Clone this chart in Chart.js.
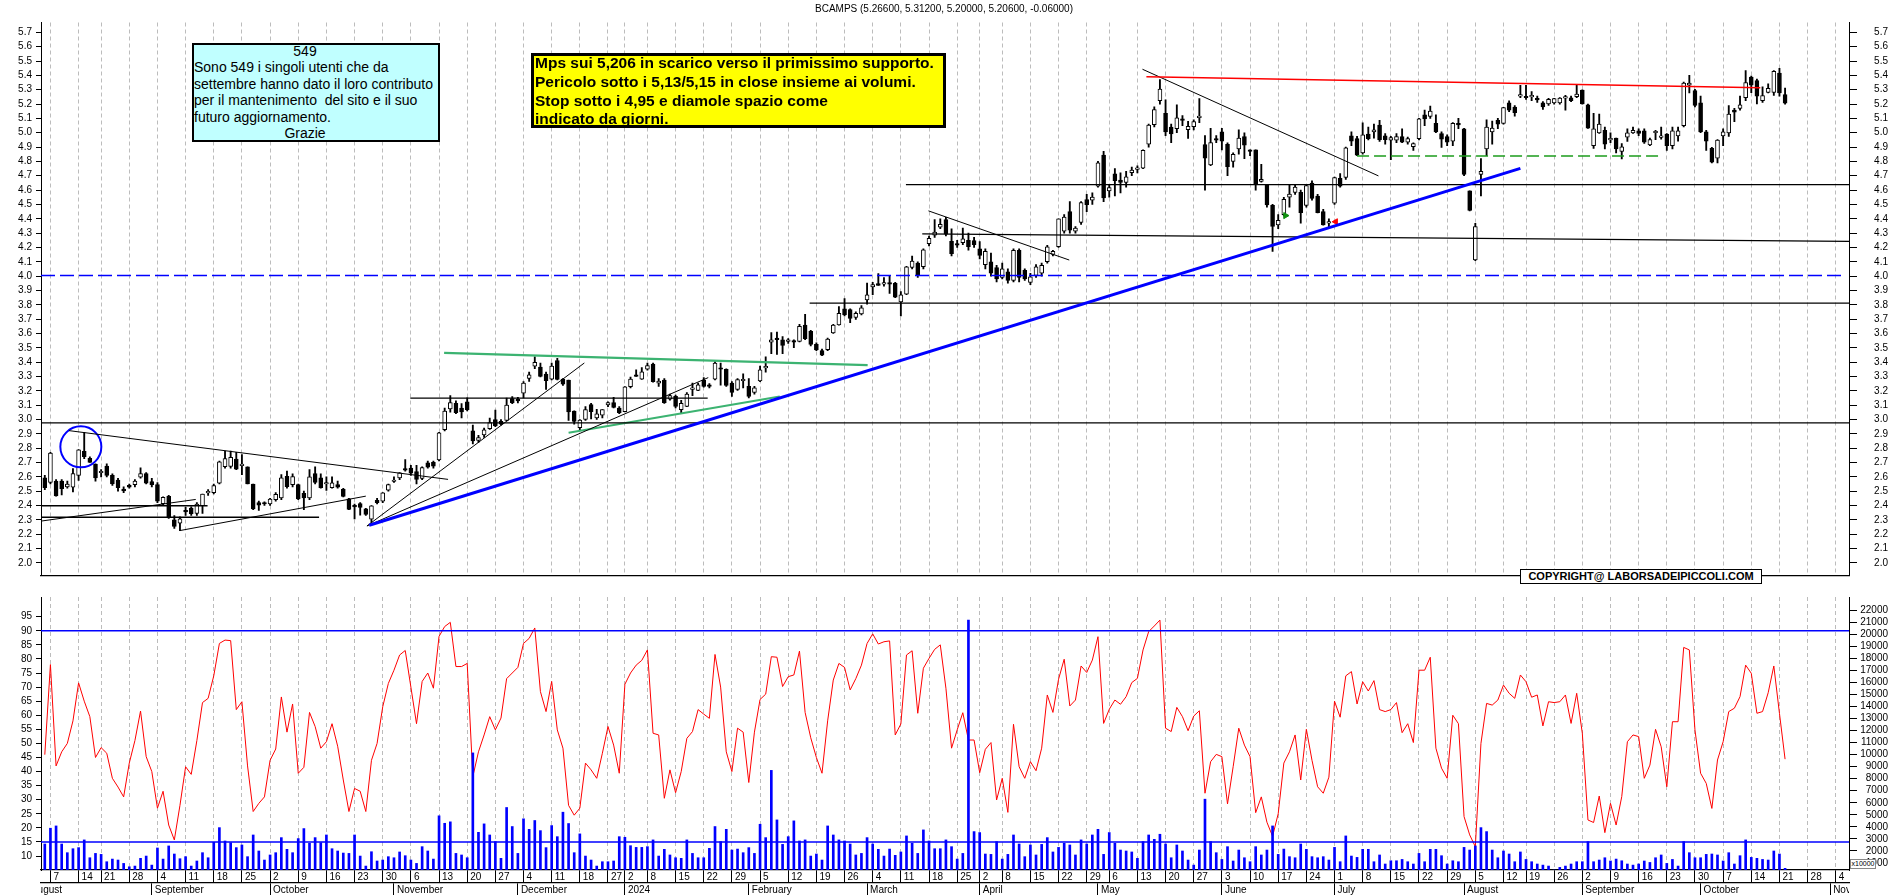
<!DOCTYPE html>
<html>
<head>
<meta charset="utf-8">
<title>BCAMPS</title>
<script src="https://cdn.jsdelivr.net/npm/chart.js@4.4.1/dist/chart.umd.min.js"></script>
<style>
  html, body { margin: 0; padding: 0; background: #fff; }
  #wrap { position: relative; width: 1890px; height: 895px; overflow: hidden; background: #fff;
          font-family: "Liberation Sans", Arial, sans-serif; color: #000; }
  #priceCanvas { position: absolute; left: 0; top: 0; }
  #oscCanvas { position: absolute; left: 0; top: 597px; }
  .box { position: absolute; box-sizing: border-box; }
  #title { position: absolute; left: 644px; width: 600px; top: 3px; text-align: center;
           font-size: 10px; line-height: 12px; }
  #thanks { left: 192px; top: 43px; width: 248px; height: 99px; border: 2px solid #000;
            background: #c0ffff; font-size: 14px; line-height: 16.4px; }
  #thanks .txt { position: relative; top: -2px; left: 0; white-space: pre; }
  #thanks .c { text-align: center; padding-right: 22px; }
  #note { left: 531px; top: 53px; width: 415px; height: 75px; border: 3px solid #000;
          background: #ffff00; font-size: 15.5px; font-weight: bold; line-height: 18.8px; }
  #note .txt { position: relative; top: -2px; left: 1px; white-space: pre; }
  #copy { left: 1520px; top: 569px; width: 242px; height: 15px; border: 1.5px solid #000;
          background: #fff; font-size: 11px; font-weight: bold; line-height: 12px; text-align: center; }
  #mult { left: 1850px; top: 859px; width: 26px; height: 10px; border: 1px solid #888;
          background: #fff; font-size: 7px; line-height: 8px; text-align: center; }
</style>
</head>
<body>
<div id="wrap">
  <canvas id="priceCanvas" width="1890" height="598" style="width:1890px;height:598px"></canvas>
  <canvas id="oscCanvas" width="1890" height="298" style="width:1890px;height:298px"></canvas>

  <div id="title">BCAMPS (5.26600, 5.31200, 5.20000, 5.20600, -0.06000)</div>

  <div class="box" id="thanks"><div class="txt"><div class="c">549</div><div>Sono 549 i singoli utenti che da</div><div>settembre hanno dato il loro contributo</div><div>per il mantenimento  del sito e il suo</div><div>futuro aggiornamento.</div><div class="c">Grazie</div></div></div>

  <div class="box" id="note"><div class="txt"><div>Mps sui 5,206 in scarico verso il primissimo supporto.</div><div>Pericolo sotto i 5,13/5,15 in close insieme ai volumi.</div><div>Stop sotto i 4,95 e diamole spazio come</div><div>indicato da giorni.</div></div></div>

  <div class="box" id="copy">COPYRIGHT@ LABORSADEIPICCOLI.COM</div>
  <div class="box" id="mult">x10000</div>
</div>

<script>
// ========================================
// DATA
// ========================================

const FONT = '"Liberation Sans", Arial, sans-serif';

// trading calendar (Borsa Italiana closing days)
const CAL_FROM = '2023-08-01';
const CAL_TO = '2024-11-08';
const FIRST_BAR = '2023-08-04';
const HOLIDAYS = ['2023-08-15', '2023-12-25', '2023-12-26', '2024-01-01',
  '2024-03-29', '2024-04-01', '2024-05-01', '2024-08-15'];
const MONTH_NAMES = ['January', 'February', 'March', 'April', 'May', 'June', 'July',
  'August', 'September', 'October', 'November', 'December'];

// visible range, in trading-day index (0 = first candle)
const X_MIN = -0.675;
const X_MAX = 320.35;

// price panel
const PRICE_MIN = 1.9115;
const PRICE_MAX = 5.769;
const PRICE_TICKS = [2.0, 2.1, 2.2, 2.3, 2.4, 2.5, 2.6, 2.7, 2.8, 2.9, 3.0, 3.1, 3.2, 3.3, 3.4,
  3.5, 3.6, 3.7, 3.8, 3.9, 4.0, 4.1, 4.2, 4.3, 4.4, 4.5, 4.6, 4.7, 4.8, 4.9, 5.0, 5.1, 5.2,
  5.3, 5.4, 5.5, 5.6, 5.7];

const OPEN = [
  2.593, 2.56, 2.571, 2.571, 2.53, 2.528, 2.61, 2.777, 2.729, 2.688,
  2.628, 2.675, 2.61, 2.577, 2.515, 2.541, 2.545, 2.597, 2.623, 2.567,
  2.545, 2.413, 2.463, 2.30, 2.277, 2.362, 2.381, 2.344, 2.398, 2.488,
  2.49, 2.556, 2.67, 2.673, 2.723, 2.678, 2.669, 2.55, 2.42, 2.418,
  2.41, 2.44, 2.452, 2.604, 2.545, 2.545, 2.485, 2.452, 2.623, 2.593,
  2.55, 2.524, 2.545, 2.513, 2.446, 2.40, 2.413, 2.377, 2.305, 2.435,
  2.43, 2.506, 2.567, 2.593, 2.654, 2.66, 2.636, 2.589, 2.697, 2.701,
  2.718, 2.928, 3.073, 3.112, 3.08, 3.123, 2.92, 2.853, 2.892, 2.935,
  3.0, 2.987, 2.993, 3.145, 3.138, 3.184, 3.286, 3.372, 3.366, 3.316,
  3.281, 3.411, 3.281, 3.275, 3.058, 2.943, 3.0, 3.104, 3.01, 3.03,
  3.102, 3.117, 3.08, 3.054, 3.229, 3.312, 3.281, 3.35, 3.387, 3.253,
  3.275, 3.142, 3.162, 3.069, 3.091, 3.21, 3.203, 3.275, 3.242, 3.281,
  3.357, 3.35, 3.253, 3.21, 3.27, 3.231, 3.188, 3.268, 3.36, 3.539,
  3.567, 3.556, 3.545, 3.55, 3.545, 3.658, 3.615, 3.524, 3.48, 3.487,
  3.604, 3.66, 3.772, 3.766, 3.712, 3.736, 3.833, 3.924, 3.948, 3.944,
  3.948, 3.95, 3.82, 3.874, 4.06, 4.09, 4.065, 4.227, 4.285, 4.342,
  4.394, 4.242, 4.227, 4.233, 4.249, 4.248, 4.19, 4.08, 4.10, 4.06,
  3.99, 4.03, 3.97, 4.18, 4.04, 3.956, 4.004, 4.02, 4.10, 4.151,
  4.205, 4.314, 4.45, 4.314, 4.374, 4.534, 4.53, 4.628, 4.844, 4.595,
  4.714, 4.67, 4.653, 4.721, 4.745, 4.753, 4.92, 5.056, 5.223, 5.136,
  5.039, 5.028, 5.09, 5.021, 5.043, 5.105, 4.918, 4.775, 4.95, 5.006,
  4.92, 4.80, 4.887, 4.974, 4.876, 4.88, 4.66, 4.634, 4.493, 4.357,
  4.428, 4.55, 4.584, 4.584, 4.493, 4.649, 4.558, 4.45, 4.37, 4.508,
  4.682, 4.688, 4.978, 4.96, 4.859, 4.991, 5.006, 5.054, 4.978, 4.948,
  4.948, 4.974, 4.935, 4.902, 4.958, 5.125, 5.114, 5.065, 4.995, 4.974,
  4.941, 5.065, 5.028, 4.595, 4.112, 4.71, 4.887, 5.006, 5.086, 5.065,
  5.208, 5.179, 5.255, 5.254, 5.25, 5.232, 5.208, 5.201, 5.208, 5.208,
  5.242, 5.244, 5.251, 5.298, 5.195, 4.909, 4.999, 5.017, 4.95, 4.963,
  4.87, 4.969, 4.999, 5.013, 5.013, 4.915, 5.0, 4.967, 4.991, 4.909,
  4.978, 5.05, 5.331, 5.294, 5.208, 5.006, 4.891, 4.822, 4.978, 4.999,
  5.158, 5.169, 5.244, 5.389, 5.363, 5.223, 5.281, 5.281, 5.417, 5.266
];

const HIGH = [
  2.61, 2.77, 2.58, 2.58, 2.57, 2.657, 2.79, 2.911, 2.74, 2.69,
  2.65, 2.69, 2.62, 2.59, 2.53, 2.55, 2.58, 2.662, 2.63, 2.59,
  2.56, 2.46, 2.47, 2.33, 2.32, 2.387, 2.39, 2.42, 2.48, 2.51,
  2.55, 2.71, 2.78, 2.78, 2.77, 2.755, 2.67, 2.55, 2.43, 2.425,
  2.45, 2.49, 2.615, 2.64, 2.62, 2.55, 2.50, 2.65, 2.67, 2.62,
  2.60, 2.60, 2.57, 2.52, 2.45, 2.41, 2.42, 2.38, 2.40, 2.45,
  2.49, 2.55, 2.60, 2.63, 2.72, 2.68, 2.68, 2.67, 2.71, 2.71,
  2.91, 3.08, 3.166, 3.13, 3.11, 3.15, 2.96, 2.89, 2.94, 3.01,
  3.065, 3.0, 3.149, 3.16, 3.155, 3.264, 3.33, 3.437, 3.394, 3.33,
  3.394, 3.426, 3.285, 3.275, 3.06, 3.0, 3.09, 3.112, 3.07, 3.069,
  3.123, 3.155, 3.09, 3.23, 3.296, 3.346, 3.361, 3.394, 3.394, 3.286,
  3.286, 3.177, 3.17, 3.134, 3.188, 3.253, 3.253, 3.292, 3.25, 3.404,
  3.394, 3.354, 3.264, 3.286, 3.318, 3.285, 3.231, 3.372, 3.437, 3.606,
  3.61, 3.578, 3.565, 3.556, 3.664, 3.733, 3.621, 3.535, 3.491, 3.567,
  3.664, 3.787, 3.844, 3.772, 3.751, 3.794, 3.952, 3.956, 4.017, 3.989,
  4.0, 3.956, 3.892, 4.069, 4.14, 4.10, 4.19, 4.28, 4.394, 4.40,
  4.41, 4.33, 4.25, 4.335, 4.30, 4.27, 4.24, 4.19, 4.16, 4.075,
  4.09, 4.05, 4.19, 4.19, 4.05, 4.02, 4.08, 4.09, 4.215, 4.18,
  4.40, 4.43, 4.52, 4.345, 4.52, 4.57, 4.58, 4.80, 4.87, 4.64,
  4.75, 4.72, 4.73, 4.76, 4.77, 4.88, 5.06, 5.18, 5.37, 5.23,
  5.06, 5.195, 5.12, 5.08, 5.09, 5.238, 4.98, 5.03, 4.98, 5.03,
  4.93, 4.86, 5.02, 5.0, 4.88, 4.88, 4.78, 4.64, 4.50, 4.43,
  4.55, 4.64, 4.64, 4.60, 4.64, 4.665, 4.57, 4.465, 4.40, 4.69,
  4.715, 4.90, 5.006, 4.975, 5.07, 5.04, 5.06, 5.087, 4.995, 4.975,
  4.995, 5.028, 4.97, 4.93, 5.10, 5.158, 5.186, 5.125, 5.006, 4.985,
  5.071, 5.10, 5.03, 4.595, 4.368, 4.82, 5.09, 5.082, 5.10, 5.178,
  5.223, 5.19, 5.33, 5.33, 5.287, 5.255, 5.217, 5.24, 5.24, 5.245,
  5.261, 5.255, 5.33, 5.30, 5.20, 5.136, 5.13, 5.04, 4.999, 4.963,
  4.924, 5.028, 5.04, 5.028, 5.028, 4.963, 5.017, 5.039, 4.995, 5.039,
  5.039, 5.353, 5.40, 5.303, 5.255, 5.017, 4.898, 4.952, 5.028, 5.19,
  5.17, 5.255, 5.433, 5.396, 5.374, 5.32, 5.342, 5.433, 5.449, 5.312
];

const LOW = [
  2.51, 2.55, 2.465, 2.474, 2.52, 2.495, 2.575, 2.727, 2.70, 2.57,
  2.60, 2.60, 2.54, 2.50, 2.49, 2.52, 2.53, 2.59, 2.55, 2.53,
  2.42, 2.40, 2.31, 2.24, 2.225, 2.33, 2.33, 2.33, 2.345, 2.47,
  2.48, 2.55, 2.66, 2.66, 2.65, 2.614, 2.55, 2.37, 2.366, 2.40,
  2.40, 2.43, 2.44, 2.52, 2.53, 2.44, 2.37, 2.44, 2.55, 2.52,
  2.505, 2.52, 2.52, 2.46, 2.37, 2.307, 2.333, 2.33, 2.27, 2.41,
  2.42, 2.50, 2.56, 2.58, 2.64, 2.61, 2.55, 2.58, 2.66, 2.66,
  2.71, 2.92, 3.05, 3.04, 3.01, 3.06, 2.83, 2.84, 2.875, 2.93,
  2.95, 2.96, 2.99, 3.11, 3.115, 3.15, 3.265, 3.355, 3.296, 3.21,
  3.275, 3.275, 3.238, 2.993, 2.967, 2.924, 2.993, 3.004, 3.0, 3.01,
  3.09, 3.08, 3.04, 3.052, 3.22, 3.30, 3.28, 3.344, 3.26, 3.23,
  3.112, 3.134, 3.08, 3.043, 3.09, 3.166, 3.2, 3.225, 3.22, 3.275,
  3.24, 3.231, 3.16, 3.203, 3.22, 3.151, 3.177, 3.264, 3.33, 3.459,
  3.454, 3.459, 3.53, 3.50, 3.54, 3.556, 3.513, 3.48, 3.445, 3.48,
  3.60, 3.658, 3.723, 3.675, 3.697, 3.73, 3.805, 3.87, 3.935, 3.93,
  3.88, 3.85, 3.723, 3.87, 4.05, 3.99, 4.05, 4.21, 4.27, 4.33,
  4.28, 4.14, 4.20, 4.22, 4.18, 4.20, 4.12, 4.05, 4.0, 3.96,
  3.98, 3.95, 3.96, 3.96, 3.97, 3.94, 3.99, 4.0, 4.09, 4.14,
  4.20, 4.30, 4.30, 4.30, 4.36, 4.45, 4.50, 4.62, 4.52, 4.55,
  4.56, 4.58, 4.62, 4.70, 4.72, 4.75, 4.90, 5.04, 5.20, 4.98,
  4.93, 5.0, 5.05, 4.96, 5.02, 5.07, 4.60, 4.77, 4.93, 4.88,
  4.70, 4.76, 4.85, 4.82, 4.84, 4.60, 4.655, 4.48, 4.173, 4.33,
  4.42, 4.48, 4.57, 4.37, 4.48, 4.53, 4.44, 4.355, 4.345, 4.50,
  4.62, 4.675, 4.909, 4.84, 4.85, 4.95, 4.963, 4.94, 4.92, 4.812,
  4.93, 4.93, 4.92, 4.876, 4.95, 5.05, 5.10, 5.0, 4.898, 4.909,
  4.909, 5.028, 4.70, 4.455, 4.108, 4.56, 4.84, 4.92, 5.028, 5.06,
  5.147, 5.115, 5.245, 5.233, 5.223, 5.212, 5.162, 5.19, 5.20, 5.20,
  5.158, 5.216, 5.245, 5.20, 5.03, 4.891, 4.995, 4.887, 4.93, 4.86,
  4.818, 4.94, 4.995, 4.98, 4.926, 4.909, 4.952, 4.956, 4.876, 4.887,
  4.941, 5.04, 5.277, 5.18, 5.0, 4.876, 4.79, 4.79, 4.909, 4.974,
  5.078, 5.158, 5.223, 5.28, 5.201, 5.212, 5.277, 5.26, 5.255, 5.20
];

const CLOSE = [
  2.524, 2.766, 2.467, 2.517, 2.55, 2.623, 2.788, 2.74, 2.701, 2.593,
  2.63, 2.61, 2.55, 2.524, 2.502, 2.528, 2.571, 2.623, 2.556, 2.545,
  2.43, 2.456, 2.322, 2.253, 2.307, 2.355, 2.342, 2.409, 2.48, 2.492,
  2.539, 2.705, 2.727, 2.736, 2.653, 2.682, 2.55, 2.376, 2.402, 2.41,
  2.445, 2.478, 2.593, 2.532, 2.602, 2.446, 2.452, 2.60, 2.56, 2.524,
  2.56, 2.558, 2.528, 2.463, 2.372, 2.39, 2.387, 2.337, 2.398, 2.42,
  2.489, 2.545, 2.577, 2.628, 2.647, 2.625, 2.582, 2.664, 2.668, 2.675,
  2.907, 3.058, 3.117, 3.047, 3.052, 3.069, 2.85, 2.874, 2.928, 2.978,
  2.955, 2.967, 3.10, 3.117, 3.13, 3.253, 3.311, 3.398, 3.30, 3.27,
  3.372, 3.279, 3.246, 3.052, 2.987, 2.996, 3.069, 3.054, 3.039, 3.069,
  3.117, 3.084, 3.047, 3.227, 3.281, 3.30, 3.333, 3.376, 3.264, 3.268,
  3.117, 3.166, 3.091, 3.112, 3.177, 3.216, 3.242, 3.231, 3.23, 3.394,
  3.35, 3.238, 3.188, 3.279, 3.275, 3.16, 3.22, 3.346, 3.368, 3.556,
  3.556, 3.517, 3.556, 3.539, 3.649, 3.563, 3.524, 3.485, 3.448, 3.56,
  3.658, 3.74, 3.729, 3.705, 3.74, 3.779, 3.87, 3.941, 3.935, 3.948,
  3.944, 3.853, 3.87, 4.065, 4.104, 4.01, 4.184, 4.264, 4.307, 4.361,
  4.292, 4.156, 4.216, 4.26, 4.205, 4.22, 4.145, 4.173, 4.02, 3.98,
  4.05, 3.97, 4.18, 3.99, 3.98, 3.995, 4.065, 4.075, 4.205, 4.173,
  4.40, 4.411, 4.32, 4.335, 4.513, 4.498, 4.552, 4.79, 4.545, 4.617,
  4.666, 4.653, 4.693, 4.74, 4.753, 4.877, 5.054, 5.162, 5.305, 5.006,
  4.991, 5.104, 5.086, 5.045, 5.078, 5.108, 4.822, 4.931, 4.948, 4.941,
  4.764, 4.85, 4.963, 4.913, 4.87, 4.638, 4.675, 4.497, 4.346, 4.389,
  4.536, 4.572, 4.621, 4.443, 4.632, 4.541, 4.443, 4.357, 4.378, 4.688,
  4.628, 4.894, 4.941, 4.844, 4.985, 4.958, 5.021, 4.952, 4.952, 4.967,
  4.974, 4.935, 4.96, 4.924, 5.097, 5.097, 5.151, 5.006, 4.956, 4.935,
  5.065, 5.054, 4.71, 4.458, 4.346, 4.73, 5.039, 5.032, 5.06, 5.175,
  5.158, 5.14, 5.261, 5.244, 5.255, 5.229, 5.18, 5.233, 5.238, 5.242,
  5.244, 5.223, 5.27, 5.201, 5.032, 5.028, 5.06, 4.92, 4.956, 4.887,
  4.902, 4.999, 5.017, 4.995, 4.935, 4.952, 5.006, 4.978, 4.909, 5.013,
  5.013, 5.346, 5.346, 5.19, 5.006, 4.941, 4.794, 4.948, 5.006, 5.13,
  5.143, 5.195, 5.35, 5.331, 5.255, 5.259, 5.309, 5.428, 5.277, 5.206
];

// oscillator panel (left axis) and volume (right axis)
const RSI_MIN = 5.03;
const RSI_MAX = 102.0;
const RSI_TICKS = [10, 15, 20, 25, 30, 35, 40, 45, 50, 55, 60, 65, 70, 75, 80, 85, 90, 95];
const RSI_LEVELS = [90, 15];

const VOL_MIN = 423;
const VOL_MAX = 23079;
const VOL_TICKS = [1000, 2000, 3000, 4000, 5000, 6000, 7000, 8000, 9000, 10000, 11000,
  12000, 13000, 14000, 15000, 16000, 17000, 18000, 19000, 20000, 21000, 22000];

const RSI = [
  46, 78, 42, 47, 50, 58, 71.5, 65, 59.5, 45,
  48.5, 46.5, 37.6, 34.5, 31, 43, 51, 61.5, 45.3, 40,
  27, 33, 21, 15.7, 28, 41.7, 39, 51, 64.5, 66,
  74, 85.5, 86.7, 86.5, 62, 64.8, 42, 25.8, 28.7, 31,
  44, 48, 66.5, 54, 64, 39.4, 41.5, 61, 56, 48.3,
  50.6, 57, 49, 37, 25.8, 34, 33, 25.8, 44, 50,
  63, 71.3, 76, 81.4, 83, 70, 57, 72, 75, 69.6,
  88, 91.5, 93, 77.3, 77.3, 78.4, 38.2, 47, 53, 59.5,
  54.8, 59, 73, 75, 77, 85.5, 87.3, 91, 68.4, 61.3,
  72, 54.8, 48.3, 28, 24.5, 27, 43, 40.6, 37.6, 46.5,
  56, 49.4, 39.4, 71, 75, 77.8, 79.5, 83.2, 53.6, 53,
  30.5, 40.6, 32.5, 40, 51.8, 54.2, 62, 60.4, 58.9, 81.6,
  70, 47, 40, 55.4, 54, 36.1, 54, 65.6, 67.5, 80.8,
  80.6, 70.2, 73.7, 74.3, 82.8, 61, 52, 45, 39.4, 58,
  72.5, 78.4, 77, 69, 73, 77.8, 85.5, 88.9, 85.3, 86.1,
  86.4, 53, 56.9, 81.4, 82.9, 60.7, 76.7, 80.2, 83.4, 85,
  69.6, 48.3, 54.8, 60.9, 51.2, 51.2, 39.6, 47.9, 50.3, 29.9,
  37.6, 25.5, 56.8, 41.7, 37.6, 43.5, 40.3, 48.3, 67.2, 61,
  72.8, 79.9, 63.3, 65.4, 77.5, 75.2, 79.6, 87.9, 57.1, 62.1,
  65.4, 63.9, 66.6, 71.6, 73.1, 83.2, 89.7, 91.7, 93.8, 55.4,
  54.2, 62.8, 59.5, 54.5, 59.7, 61.6, 32.3, 43.5, 46.1, 45.3,
  28.5, 41.7, 55.4, 49.4, 45.3, 25.4, 31, 22, 17, 25,
  43, 47, 53, 37, 55, 44, 34.6, 32.3, 38, 65,
  59.3, 74, 75.5, 64, 71.9, 68.6, 72.3, 62, 61.3, 62,
  64.5, 53.8, 57, 50.3, 76, 76, 80.6, 48.3, 41.2, 37.6,
  60, 57, 24, 17.5, 13.3, 50, 64.2, 63.6, 65.4, 70.7,
  67.8, 66, 74.3, 71.9, 66.4, 67.2, 56.2, 64.8, 64.5, 64.8,
  67.2, 57.1, 67.8, 53.6, 22.8, 21.9, 31.3, 18.3, 28.7, 21,
  31.1, 50.6, 53, 52.4, 37.6, 42.3, 55, 48.8, 34.6, 57.7,
  57.7, 84.1, 83.2, 54.8, 39.4, 35.8, 26.9, 44.1, 50.6, 61.3,
  62.5, 66.6, 77.8, 74.9, 60.7, 61.3, 68, 77.5, 60.7, 44.4
];

const VOLUME = [
  2580, 3890, 4080, 2580, 1860, 2190, 2280, 2920, 1440, 1800,
  1720, 1110, 1330, 1250, 970, 690, 750, 1390, 1580, 830,
  2250, 1330, 2420, 1750, 1360, 1530, 750, 1170, 1860, 1440,
  2720, 3940, 2830, 2690, 2280, 2500, 1530, 3330, 2000, 1250,
  1670, 1860, 3110, 2140, 1860, 3030, 3860, 2640, 3110, 2690,
  3330, 2190, 2000, 1830, 1800, 3330, 1580, 750, 1940, 1170,
  1250, 1530, 1440, 1920, 1610, 1250, 970, 2360, 2000, 1330,
  4920, 4300, 4420, 1800, 1670, 1440, 10140, 3550, 4250, 3330,
  2780, 1390, 5610, 4030, 1800, 4670, 3800, 4530, 3690, 2280,
  4110, 3190, 5220, 4280, 1860, 3420, 1580, 1250, 750, 1110,
  1110, 1170, 3190, 3140, 2440, 2300, 2300, 2360, 2920, 1580,
  2140, 1670, 1440, 1390, 2920, 1800, 1440, 1440, 2220, 4030,
  2780, 3800, 2080, 2160, 1860, 2280, 1800, 4220, 3110, 8690,
  4580, 2550, 3190, 4500, 2830, 2920, 1580, 1750, 1250, 4080,
  3330, 2920, 2830, 2580, 1670, 1800, 3110, 2580, 2140, 1580,
  2160, 1640, 1920, 3250, 2640, 1800, 3750, 2830, 2190, 2190,
  2920, 2360, 1330, 1800, 21170, 3610, 3530, 1750, 1720, 2780,
  1330, 1720, 3330, 2580, 1530, 2500, 1670, 2550, 3110, 1920,
  2300, 2640, 2500, 1670, 2920, 2580, 3330, 3800, 1720, 3530,
  2640, 2080, 2000, 1920, 1390, 2780, 3330, 2970, 3390, 2580,
  1440, 2500, 2000, 1250, 830, 2080, 6300, 2780, 1860, 1300,
  2360, 1170, 2080, 1440, 1110, 2360, 1670, 2080, 4080, 1720,
  2160, 1530, 1440, 2580, 2140, 1530, 1440, 1530, 1250, 2300,
  1110, 3250, 1580, 1470, 2140, 2140, 1110, 1670, 920, 1190,
  1190, 1300, 1110, 920, 1800, 1110, 2140, 2140, 1610, 920,
  1190, 1110, 2300, 2080, 2420, 3940, 3610, 2080, 1440, 2000,
  1750, 1110, 1920, 1300, 1110, 920, 830, 750, 420, 640,
  750, 920, 1110, 1110, 2780, 1110, 1250, 1440, 1170, 1330,
  1190, 920, 830, 920, 1170, 1050, 1440, 1670, 970, 1300,
  750, 2780, 1860, 1440, 1440, 1720, 1750, 1670, 1170, 1860,
  920, 1610, 2920, 1470, 1390, 1300, 1250, 2000, 1750, 560
];

// hand-drawn studies on the price panel: [trading-day index, price]
const BLUE_TREND = [[57.6, 2.262], [262.0, 4.751]];
const BLUE_LEVEL = [[X_MIN, 4.005], [319.5, 4.005]];
const LEVEL_298 = [[X_MIN, 2.976], [X_MAX, 2.976]];
const LEVEL_381 = [[135.8, 3.812], [X_MAX, 3.812]];
const LEVEL_464 = [[152.9, 4.638], [X_MAX, 4.638]];
const LEVEL_429 = [[155.8, 4.294], [X_MAX, 4.242]];
const LEVEL_315 = [[64.9, 3.149], [117.7, 3.149]];
const LEVEL_240 = [[X_MIN, 2.398], [28.9, 2.398]];
const LEVEL_232 = [[X_MIN, 2.318], [48.7, 2.318]];
const RED_TOP = [[195.6, 5.39], [304.6, 5.314]];
const GREEN_DASH = [[233.0, 4.837], [287.2, 4.837]];
const MAY_FALL = [[194.9, 5.443], [236.8, 4.699]];
const APRIL_FALL = [[156.9, 4.455], [181.9, 4.112]];
const AUG_FALL = [[4.3, 2.922], [71.6, 2.582]];
const AUG_RISE = [[X_MIN, 2.291], [26.8, 2.442]];
const SEP_RISE = [[24.0, 2.225], [57.0, 2.465]];
const FAN_STEEP = [[57.2, 2.257], [95.8, 3.394]];
const FAN_FLAT = [[57.2, 2.257], [117.8, 3.292]];
const GREEN_TOP = [[70.9, 3.465], [146.1, 3.379]];
const GREEN_RISE = [[93.0, 2.907], [130.5, 3.16]];
const CIRCLE_AT = [6.4, 2.809];
const GREEN_ARROW_AT = [220.3, 4.422];
const RED_ARROW_AT = [229.2, 4.379];

// ========================================
// CALENDAR / TICKS
// ========================================

function isoDay(d) {
  return d.toISOString().slice(0, 10);
}

function buildCalendar() {
  const days = [];
  const end = Date.parse(CAL_TO + 'T00:00:00Z');
  for (let t = Date.parse(CAL_FROM + 'T00:00:00Z'); t <= end; t += 86400000) {
    const d = new Date(t);
    const wd = d.getUTCDay();
    if (wd === 0 || wd === 6) continue;
    if (HOLIDAYS.includes(isoDay(d))) continue;
    days.push(d);
  }
  return days;
}

const CAL = buildCalendar();
const FIRST = CAL.findIndex(function(d) { return isoDay(d) === FIRST_BAR; });

// first trading day of each week -> day number labels
const WEEK_TICKS = [];
// first trading day of each month -> month labels
const MONTH_TICKS = [];
CAL.forEach(function(d, j) {
  const x = j - FIRST;
  const prev = CAL[j - 1];
  if (prev && d.getUTCDay() < prev.getUTCDay() && x >= X_MIN && x <= X_MAX) {
    WEEK_TICKS.push({ x: x, label: String(d.getUTCDate()) });
  }
  if (!prev || d.getUTCMonth() !== prev.getUTCMonth()) {
    const m = d.getUTCMonth();
    MONTH_TICKS.push({ x: x, label: m === 0 ? String(d.getUTCFullYear()) : MONTH_NAMES[m] });
  }
});
const DAY_LABEL = new Map(WEEK_TICKS.map(function(t) { return [t.x, t.label]; }));

// ========================================
// CHART HELPERS
// ========================================

const GRID_GRAY = '#bcbcbc';
const GRID_DASH = [4, 3];

Chart.defaults.font.family = FONT;
Chart.defaults.font.size = 10;
Chart.defaults.color = '#000';

function pts(pairs) {
  return pairs.map(function(p) { return { x: p[0], y: p[1] }; });
}

function segment(pairs, color, width, dash) {
  return {
    type: 'line',
    data: pts(pairs),
    borderColor: color,
    borderWidth: width,
    borderDash: dash || [],
    pointRadius: 0,
    tension: 0,
    fill: false,
    order: 0,
    xAxisID: 'x',
    yAxisID: 'y'
  };
}

function marker(at, style, rotation, radius, color, fillColor, width) {
  return {
    type: 'line',
    data: pts([at]),
    showLine: false,
    pointStyle: style,
    rotation: rotation,
    pointRadius: radius,
    pointBorderColor: color,
    pointBackgroundColor: fillColor,
    pointBorderWidth: width,
    order: 0,
    xAxisID: 'x',
    yAxisID: 'y'
  };
}

function yAxis(position, min, max, values, width, tickLen, format) {
  return {
    position: position,
    min: min,
    max: max,
    afterBuildTicks: function(s) { s.ticks = values.map(function(v) { return { value: v }; }); },
    ticks: {
      autoSkip: false,
      padding: 4,
      crossAlign: position === 'right' ? 'far' : 'near',
      font: { family: FONT, size: 10 },
      color: '#000',
      callback: format
    },
    grid: { drawOnChartArea: false, drawTicks: true, tickLength: tickLen, tickColor: '#000', tickWidth: 1 },
    border: { display: true, color: '#000', width: 1 },
    afterFit: function(s) { s.width = width; s.paddingTop = 0; s.paddingBottom = 0; }
  };
}

function weekTicks(s) {
  s.ticks = WEEK_TICKS.map(function(t) { return { value: t.x }; });
}

// ========================================
// PRICE PANEL
// ========================================

const bodies = OPEN.map(function(o, i) {
  return { x: i, y: [Math.min(o, CLOSE[i]), Math.max(o, CLOSE[i])] };
});
const wicks = OPEN.map(function(o, i) { return { x: i, y: [LOW[i], HIGH[i]] }; });
const bodyFill = OPEN.map(function(o, i) { return CLOSE[i] >= o ? '#ffffff' : '#000000'; });

new Chart(document.getElementById('priceCanvas'), {
  type: 'line',
  data: {
    datasets: [
      segment(BLUE_TREND, '#0000ff', 3),
      segment(BLUE_LEVEL, '#0000ff', 1.5, [14, 5]),
      segment(LEVEL_298, '#000', 1.3),
      segment(LEVEL_381, '#000', 1.3),
      segment(LEVEL_464, '#000', 1.3),
      segment(LEVEL_429, '#000', 1.3),
      segment(LEVEL_315, '#000', 1.3),
      segment(LEVEL_240, '#000', 1.3),
      segment(LEVEL_232, '#000', 1.3),
      segment(RED_TOP, '#ff0000', 1.5),
      segment(GREEN_DASH, '#1c9c1c', 1.5, [12, 5]),
      segment(MAY_FALL, '#000', 1),
      segment(APRIL_FALL, '#000', 1),
      segment(AUG_FALL, '#000', 1),
      segment(AUG_RISE, '#000', 1),
      segment(SEP_RISE, '#000', 1),
      segment(FAN_STEEP, '#000', 1),
      segment(FAN_FLAT, '#000', 1),
      segment(GREEN_TOP, '#3cb371', 2.2),
      segment(GREEN_RISE, '#3cb371', 2.2),
      marker(CIRCLE_AT, 'circle', 0, 20.5, '#0000ff', 'rgba(0,0,0,0)', 2),
      marker(GREEN_ARROW_AT, 'triangle', 90, 3.5, '#109010', '#109010', 1),
      marker(RED_ARROW_AT, 'triangle', 270, 3.5, '#ff0000', '#ff0000', 1),
      {
        type: 'bar',
        data: bodies,
        backgroundColor: bodyFill,
        borderColor: '#000',
        borderWidth: 1,
        borderSkipped: false,
        barThickness: 4,
        minBarLength: 1.5,
        grouped: false,
        order: 1,
        xAxisID: 'x',
        yAxisID: 'y'
      },
      {
        type: 'bar',
        data: wicks,
        backgroundColor: '#000',
        borderWidth: 0,
        barThickness: 1.2,
        grouped: false,
        order: 2,
        xAxisID: 'x',
        yAxisID: 'y'
      }
    ]
  },
  options: {
    responsive: false,
    animation: false,
    devicePixelRatio: 1,
    layout: { padding: { left: 0, right: 2, top: 0, bottom: 0 } },
    plugins: { legend: { display: false }, tooltip: { enabled: false } },
    scales: {
      x: {
        type: 'linear',
        min: X_MIN,
        max: X_MAX,
        offset: false,
        afterBuildTicks: weekTicks,
        ticks: { display: false },
        grid: { color: GRID_GRAY, lineWidth: 1, drawTicks: false, offset: false },
        border: { display: true, color: '#000', width: 1.3, dash: GRID_DASH },
        afterFit: function(s) { s.height = 1; s.paddingLeft = 0; s.paddingRight = 0; }
      },
      y: yAxis('left', PRICE_MIN, PRICE_MAX, PRICE_TICKS, 41, 5, function(v) { return v.toFixed(1); }),
      y2: yAxis('right', PRICE_MIN, PRICE_MAX, PRICE_TICKS, 39, 8, function(v) { return v.toFixed(1); })
    }
  }
});

// ========================================
// OSCILLATOR / VOLUME PANEL
// ========================================

// month names under the day numbers, clipped to the plot width
const monthLabels = {
  id: 'monthLabels',
  afterDraw: function(chart) {
    const xs = chart.scales.x2;
    const area = chart.chartArea;
    const ctx = chart.ctx;
    ctx.save();
    ctx.beginPath();
    ctx.rect(area.left, xs.top, area.right - area.left, xs.bottom - xs.top);
    ctx.clip();
    ctx.font = '10px ' + FONT;
    ctx.fillStyle = '#000';
    ctx.textBaseline = 'middle';
    ctx.textAlign = 'left';
    MONTH_TICKS.forEach(function(m) {
      ctx.fillText(m.label, xs.getPixelForValue(m.x) + 3, (xs.top + xs.bottom) / 2 + 1);
    });
    ctx.restore();
  }
};

new Chart(document.getElementById('oscCanvas'), {
  type: 'line',
  data: {
    datasets: [
      {
        type: 'bar',
        data: VOLUME.map(function(v, i) { return { x: i, y: v }; }),
        backgroundColor: '#0000ff',
        borderWidth: 0,
        barThickness: 2,
        grouped: false,
        order: 0,
        xAxisID: 'x',
        yAxisID: 'yv'
      }
    ].concat(RSI_LEVELS.map(function(level) {
      return {
        type: 'line',
        data: [{ x: X_MIN, y: level }, { x: X_MAX, y: level }],
        borderColor: '#0000ff',
        borderWidth: 1.5,
        pointRadius: 0,
        order: 0,
        xAxisID: 'x',
        yAxisID: 'yr'
      };
    })).concat([
      {
        type: 'line',
        data: RSI.map(function(v, i) { return { x: i, y: v }; }),
        borderColor: '#ff0000',
        borderWidth: 1,
        pointRadius: 0,
        tension: 0,
        order: 1,
        xAxisID: 'x',
        yAxisID: 'yr'
      }
    ])
  },
  options: {
    responsive: false,
    animation: false,
    devicePixelRatio: 1,
    layout: { padding: { left: 0, right: 2, top: 0, bottom: 0 } },
    plugins: { legend: { display: false }, tooltip: { enabled: false } },
    scales: {
      x: {
        type: 'linear',
        position: 'bottom',
        weight: 0,
        min: X_MIN,
        max: X_MAX,
        offset: false,
        afterBuildTicks: weekTicks,
        ticks: {
          autoSkip: false,
          maxRotation: 0,
          minRotation: 0,
          align: 'start',
          labelOffset: 3,
          padding: -12,
          font: { family: FONT, size: 10 },
          color: '#000',
          callback: function(v) { return DAY_LABEL.get(v) || ''; }
        },
        grid: {
          color: GRID_GRAY, lineWidth: 1, offset: false,
          drawTicks: true, tickLength: 13, tickColor: '#000', tickWidth: 1, tickBorderDash: []
        },
        border: { display: true, color: '#000', width: 1.3, dash: GRID_DASH },
        afterFit: function(s) { s.height = 13; s.paddingLeft = 0; s.paddingRight = 0; }
      },
      x2: {
        type: 'linear',
        position: 'bottom',
        weight: 1,
        min: X_MIN,
        max: X_MAX,
        offset: false,
        afterBuildTicks: function(s) {
          s.ticks = MONTH_TICKS.filter(function(m) { return m.x >= X_MIN && m.x <= X_MAX; })
            .map(function(m) { return { value: m.x }; });
        },
        ticks: { display: false },
        grid: { drawOnChartArea: false, drawTicks: true, tickLength: 12, tickColor: '#000', tickWidth: 1 },
        border: { display: true, color: '#000', width: 1.3 },
        afterFit: function(s) { s.height = 12; s.paddingLeft = 0; s.paddingRight = 0; }
      },
      yr: yAxis('left', RSI_MIN, RSI_MAX, RSI_TICKS, 41, 5, function(v) { return String(v); }),
      yv: yAxis('right', VOL_MIN, VOL_MAX, VOL_TICKS, 39, 8, function(v) { return String(v); })
    }
  },
  plugins: [monthLabels]
});
</script>
</body>
</html>
